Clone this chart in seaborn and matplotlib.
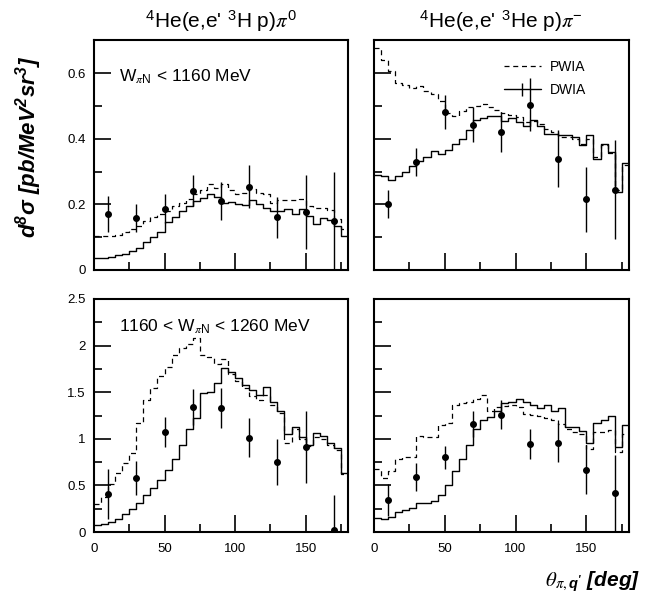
import numpy as np
import pandas as pd
import matplotlib
matplotlib.use("Agg")
import matplotlib.pyplot as plt
import seaborn as sns
from matplotlib.lines import Line2D
from matplotlib.ticker import MultipleLocator, FuncFormatter

sns.set_style("ticks")
plt.rcParams['font.family'] = ['Liberation Sans', 'DejaVu Sans']
plt.rcParams['mathtext.fontset'] = 'stix'
for key in ('text.color', 'axes.labelcolor', 'xtick.color', 'ytick.color', 'axes.edgecolor'):
    plt.rcParams[key] = 'black'

# 5 degree bins, 0..180
bin_edges = np.arange(0, 181, 5)
bin_centers = bin_edges[:-1] + 2.5

# top-left: 4He(e,e' 3H p)pi0, W < 1160 MeV
tl_pwia = [0.105, 0.105, 0.105, 0.108, 0.115, 0.125, 0.135, 0.150, 0.160, 0.170,
           0.180, 0.195, 0.205, 0.215, 0.230, 0.245, 0.262, 0.250, 0.262, 0.245,
           0.232, 0.235, 0.248, 0.235, 0.230, 0.205, 0.212, 0.212, 0.212, 0.216,
           0.196, 0.190, 0.190, 0.183, 0.155, 0.125]
tl_dwia = [0.037, 0.037, 0.040, 0.045, 0.050, 0.058, 0.068, 0.085, 0.100, 0.115,
           0.145, 0.160, 0.180, 0.195, 0.210, 0.220, 0.230, 0.222, 0.205, 0.208,
           0.200, 0.198, 0.212, 0.200, 0.190, 0.181, 0.180, 0.186, 0.172, 0.186,
           0.165, 0.141, 0.157, 0.152, 0.135, 0.105]

# top-right: 4He(e,e' 3He p)pi-, W < 1160 MeV
tr_pwia = [0.675, 0.640, 0.605, 0.570, 0.565, 0.555, 0.560, 0.545, 0.535, 0.515,
           0.478, 0.470, 0.485, 0.495, 0.500, 0.505, 0.497, 0.488, 0.478, 0.472,
           0.465, 0.450, 0.455, 0.445, 0.430, 0.420, 0.405, 0.405, 0.400, 0.385,
           0.400, 0.345, 0.380, 0.355, 0.245, 0.320]
tr_dwia = [0.290, 0.285, 0.275, 0.285, 0.300, 0.318, 0.332, 0.345, 0.362, 0.352,
           0.365, 0.385, 0.398, 0.425, 0.456, 0.462, 0.470, 0.470, 0.455, 0.462,
           0.450, 0.440, 0.456, 0.440, 0.415, 0.415, 0.410, 0.410, 0.405, 0.380,
           0.410, 0.339, 0.385, 0.360, 0.237, 0.325]

# bottom-left: 1160 < W < 1260 MeV
bl_pwia = [0.30, 0.38, 0.52, 0.63, 0.74, 0.85, 1.17, 1.42, 1.54, 1.67,
           1.77, 1.90, 1.97, 2.02, 2.08, 1.90, 1.88, 1.80, 1.86, 1.70,
           1.62, 1.55, 1.46, 1.42, 1.47, 1.36, 1.28, 0.96, 1.10, 1.00,
           0.92, 1.02, 1.00, 0.93, 0.88, 0.62]
bl_dwia = [0.075, 0.085, 0.11, 0.14, 0.19, 0.245, 0.31, 0.40, 0.47, 0.56,
           0.66, 0.78, 0.93, 1.10, 1.22, 1.49, 1.50, 1.60, 1.76, 1.72,
           1.65, 1.58, 1.52, 1.47, 1.56, 1.40, 1.30, 1.05, 1.13, 1.02,
           0.93, 1.06, 1.03, 0.96, 0.90, 0.63]

# bottom-right
br_pwia = [0.68, 0.58, 0.65, 0.78, 0.81, 0.81, 1.03, 1.02, 1.02, 1.15,
           1.17, 1.36, 1.38, 1.40, 1.43, 1.47, 1.30, 1.34, 1.35, 1.36,
           1.34, 1.27, 1.26, 1.24, 1.22, 1.20, 1.16, 1.10, 1.07, 1.05,
           0.89, 1.07, 1.07, 1.09, 0.86, 1.05]
br_dwia = [0.146, 0.135, 0.165, 0.21, 0.235, 0.255, 0.31, 0.31, 0.33, 0.40,
           0.50, 0.65, 0.78, 0.93, 1.10, 1.20, 1.23, 1.30, 1.38, 1.39,
           1.43, 1.39, 1.36, 1.33, 1.36, 1.30, 1.33, 1.13, 1.13, 1.08,
           0.96, 1.17, 1.20, 1.24, 0.91, 1.15]

# measured points
theta_pts = [10, 30, 50, 70, 90, 110, 130, 150, 170]
tl_y = [0.171, 0.158, 0.187, 0.242, 0.210, 0.254, 0.160, 0.176, 0.148]
tl_err = [0.054, 0.042, 0.045, 0.048, 0.057, 0.066, 0.063, 0.112, 0.150]
tr_y = [0.202, 0.329, 0.481, 0.443, 0.420, 0.504, 0.339, 0.215, 0.245]
tr_err = [0.043, 0.043, 0.052, 0.052, 0.061, 0.081, 0.086, 0.100, 0.150]
bl_y = [0.41, 0.58, 1.07, 1.34, 1.33, 1.01, 0.75, 0.91, 0.02]
bl_err = [0.27, 0.18, 0.16, 0.19, 0.21, 0.21, 0.245, 0.385, 0.38]
br_y = [0.34, 0.59, 0.80, 1.16, 1.26, 0.94, 0.96, 0.67, 0.415]
br_err = [0.17, 0.155, 0.12, 0.14, 0.16, 0.16, 0.21, 0.26, 0.41]

titles = ["$^{\\mathdefault{4}}$He(e,e' $^{\\mathdefault{3}}$H p)$\\pi^{\\mathdefault{0}}$",
          "$^{\\mathdefault{4}}$He(e,e' $^{\\mathdefault{3}}$He p)$\\pi^{\\mathdefault{-}}$"]


def draw_panel(ax, pwia, dwia, pts, err, ylim, major, minor):
    df = pd.DataFrame({"theta": bin_centers, "pwia": pwia, "dwia": dwia})
    sns.histplot(data=df, x="theta", weights="pwia", binwidth=5, binrange=(0, 180),
                 element="step", fill=False, color="k", linestyle=(0, (4, 3)),
                 linewidth=0.9, ax=ax)
    sns.histplot(data=df, x="theta", weights="dwia", binwidth=5, binrange=(0, 180),
                 element="step", fill=False, color="k", linewidth=1.0, ax=ax)
    ax.errorbar(theta_pts, pts, yerr=err, fmt='o', color='k', ms=4,
                elinewidth=1.0, capsize=0)
    ax.set_xlim(0, 180)
    ax.set_ylim(*ylim)
    ax.set_xlabel("")
    ax.set_ylabel("")
    ax.xaxis.set_major_locator(MultipleLocator(50))
    ax.xaxis.set_minor_locator(MultipleLocator(25))
    ax.yaxis.set_major_locator(MultipleLocator(major))
    ax.yaxis.set_minor_locator(MultipleLocator(minor))
    ax.yaxis.set_major_formatter(FuncFormatter(lambda v, _: f"{v:g}"))
    ax.tick_params(which='both', direction='in', top=False, right=False,
                   labelsize=9.5, width=1.2)
    ax.tick_params(which='major', length=12)
    ax.tick_params(which='minor', length=6)
    ax.tick_params(axis='x', pad=8)
    ax.tick_params(axis='y', pad=6)
    for s in ax.spines.values():
        s.set_linewidth(1.5)
        s.set_visible(True)


fig = plt.figure(figsize=(6.48, 6.0), dpi=100)
ax_tl = fig.add_axes([0.145, 0.55, 0.392, 0.383])
ax_tr = fig.add_axes([0.577, 0.55, 0.3935, 0.383])
ax_bl = fig.add_axes([0.145, 0.1133, 0.392, 0.3884])
ax_br = fig.add_axes([0.577, 0.1133, 0.3935, 0.3884])

draw_panel(ax_tl, tl_pwia, tl_dwia, tl_y, tl_err, (0, 0.7), 0.2, 0.1)
draw_panel(ax_tr, tr_pwia, tr_dwia, tr_y, tr_err, (0, 0.7), 0.2, 0.1)
draw_panel(ax_bl, bl_pwia, bl_dwia, bl_y, bl_err, (0, 2.5), 0.5, 0.25)
draw_panel(ax_br, br_pwia, br_dwia, br_y, br_err, (0, 2.5), 0.5, 0.25)

for ax in (ax_tl, ax_tr):
    ax.tick_params(labelbottom=False)
for ax in (ax_tr, ax_br):
    ax.tick_params(labelleft=False)

ax_tl.set_title(titles[0], fontsize=15, pad=9)
ax_tr.set_title(titles[1], fontsize=15, pad=9)

ax_tl.text(0.10, 0.84, "W$_{\\pi\\mathdefault{N}}$ < 1160 MeV", transform=ax_tl.transAxes,
           fontsize=12.5, va='center')
ax_bl.text(0.10, 0.88, "1160 < W$_{\\pi\\mathdefault{N}}$ < 1260 MeV",
           transform=ax_bl.transAxes, fontsize=12.5, va='center')

h_pwia = Line2D([], [], color='k', linestyle=(0, (4, 3)), linewidth=0.9)
h_dwia = ax_tr.errorbar([], [], yerr=[], fmt='-', color='k', linewidth=1.0, capsize=0)
ax_tr.legend([h_pwia, h_dwia], ["PWIA", "DWIA"], loc='upper left',
             bbox_to_anchor=(0.46, 0.97), frameon=False, fontsize=10,
             handlelength=2.7, handletextpad=0.65, labelspacing=0.7)

fig.text(0.045, 0.755, "d$^{\\mathdefault{8}}$σ [pb/MeV$^{\\mathdefault{2}}$sr$^{\\mathdefault{3}}$]",
         rotation=90, fontsize=16, fontweight='bold', style='italic',
         ha='center', va='center')
fig.text(0.988, 0.03, "$\\theta_{\\pi,\\mathdefault{q'}}$ [deg]", fontsize=15,
         fontweight='bold', style='italic', ha='right', va='center')

fig.savefig("out.png", dpi=100)
